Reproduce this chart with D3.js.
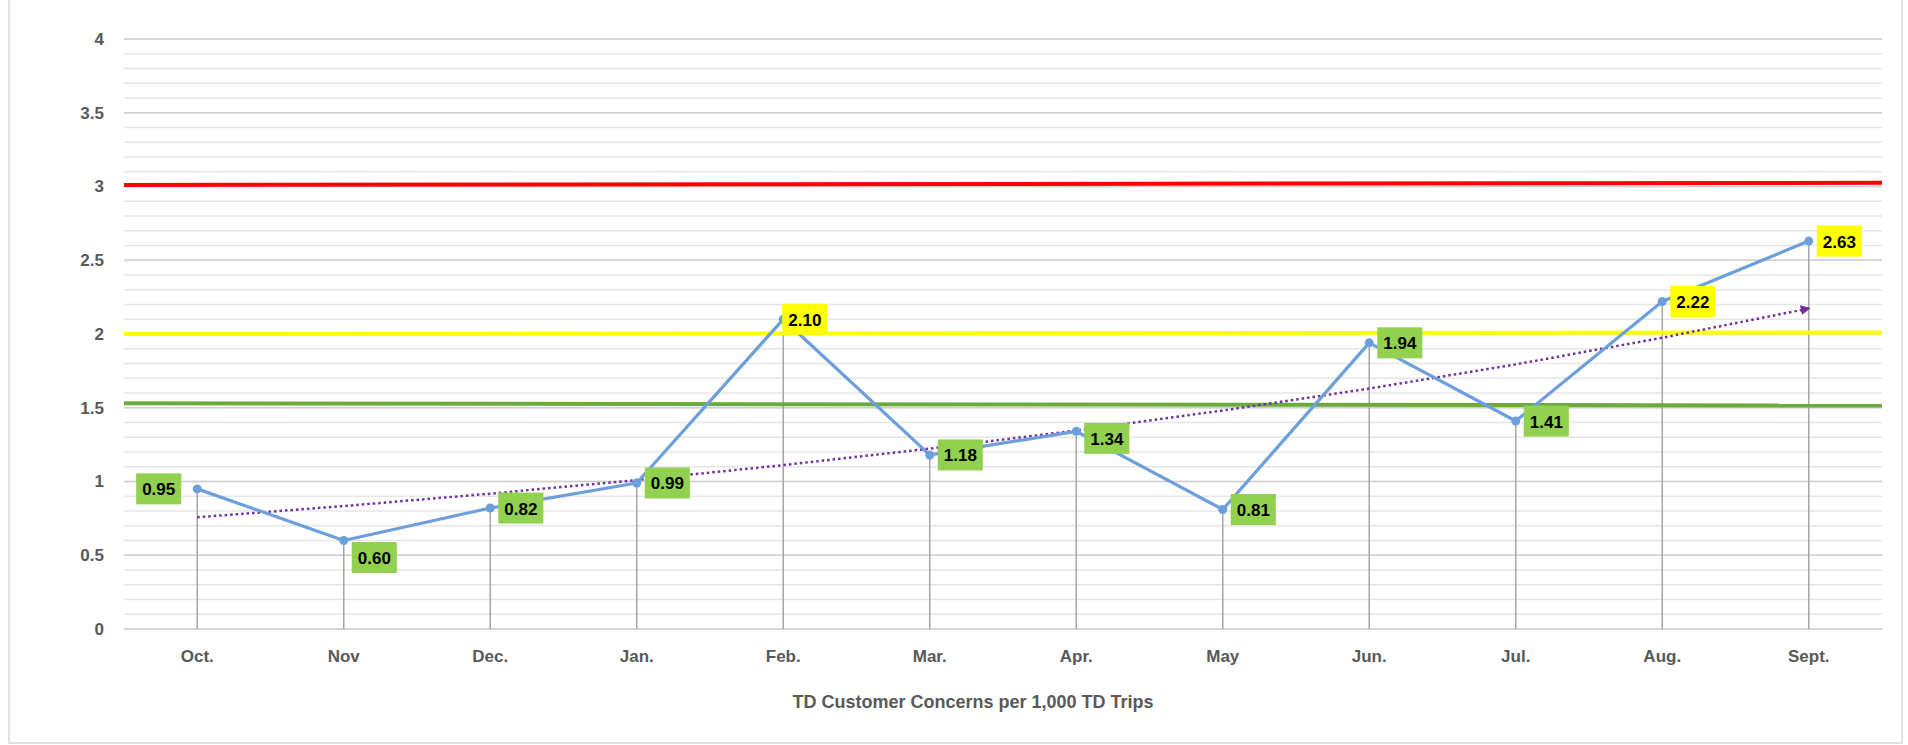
<!DOCTYPE html>
<html>
<head>
<meta charset="utf-8">
<script src="https://cdn.jsdelivr.net/npm/d3@7/dist/d3.min.js"></script>
<style>
  html, body { margin: 0; padding: 0; background: #fff; }
  svg { display: block; }
</style>
</head>
<body>
<svg id="chart" width="1908" height="745"></svg>
<script>
// ---- data ----
const months = ["Oct.", "Nov", "Dec.", "Jan.", "Feb.", "Mar.", "Apr.", "May", "Jun.", "Jul.", "Aug.", "Sept."];
const concerns = [0.95, 0.60, 0.82, 0.99, 2.10, 1.18, 1.34, 0.81, 1.94, 1.41, 2.22, 2.63];
const yTicks = [0, 0.5, 1, 1.5, 2, 2.5, 3, 3.5, 4];
const redLimit = [3.01, 3.025];     // value at left edge, right edge
const yellowLimit = [2.00, 2.01];
const greenLimit = [1.53, 1.515];
const xTitle = "TD Customer Concerns per 1,000 TD Trips";

// ---- layout ----
const svg = d3.select("#chart");
const plot = { left: 124, right: 1882, top: 39, bottom: 629 };
const FONT = "Liberation Sans, Arial, sans-serif";

svg.append("rect").attr("x", 9).attr("y", -2).attr("width", 1893).attr("height", 745)
  .attr("fill", "#fff").attr("stroke", "#d9d9d9").attr("stroke-width", 1.5);

const x = d3.scaleBand().domain(months).range([plot.left, plot.right]);
const cx = m => x(m) + x.bandwidth() / 2;
const y = d3.scaleLinear().domain([0, 4]).range([plot.bottom, plot.top]);

// minor gridlines
const minor = y.ticks(40);
svg.append("g").selectAll("line").data(minor).join("line")
  .attr("x1", plot.left).attr("x2", plot.right)
  .attr("y1", d => y(d)).attr("y2", d => y(d))
  .attr("stroke", "#e6e6e6").attr("stroke-width", 1.5);
// major gridlines
svg.append("g").selectAll("line").data(yTicks).join("line")
  .attr("x1", plot.left).attr("x2", plot.right)
  .attr("y1", d => y(d)).attr("y2", d => y(d))
  .attr("stroke", "#cfcfcf").attr("stroke-width", 1.5);

// y axis labels
const yAxis = svg.append("g").attr("transform", `translate(${plot.left},0)`)
  .call(d3.axisLeft(y).tickValues(yTicks).tickSize(0).tickPadding(20).tickFormat(d3.format("")));
yAxis.select(".domain").remove();
yAxis.selectAll("text").attr("font-family", FONT)
  .attr("font-size", 17).attr("font-weight", "bold").attr("fill", "#595959");

// x axis labels
const xAxis = svg.append("g").attr("transform", `translate(0,${plot.bottom})`)
  .call(d3.axisBottom(x).tickSize(0).tickPadding(21));
xAxis.select(".domain").remove();
xAxis.selectAll("text").attr("font-family", FONT)
  .attr("font-size", 17).attr("font-weight", "bold").attr("fill", "#595959");

// x title
svg.append("text").attr("x", 973).attr("y", 708).attr("text-anchor", "middle")
  .attr("font-family", FONT).attr("font-size", 18)
  .attr("font-weight", "bold").attr("fill", "#595959").text(xTitle);

// drop lines
svg.append("g").selectAll("line").data(concerns).join("line")
  .attr("x1", (d, i) => cx(months[i])).attr("x2", (d, i) => cx(months[i]))
  .attr("y1", d => y(d)).attr("y2", y(0))
  .attr("stroke", "#a6a6a6").attr("stroke-width", 1.5);

// limit lines
const limits = [
  { v: redLimit, c: "#ff0000" },
  { v: yellowLimit, c: "#ffff00" },
  { v: greenLimit, c: "#6aab3c" }
];
svg.append("g").selectAll("line").data(limits).join("line")
  .attr("x1", plot.left).attr("x2", plot.right)
  .attr("y1", d => y(d.v[0])).attr("y2", d => y(d.v[1]))
  .attr("stroke", d => d.c).attr("stroke-width", 4);

// exponential trendline (least squares on ln y)
const n = concerns.length;
const xs = d3.range(1, n + 1);
const lys = concerns.map(Math.log);
const mx = d3.mean(xs), my = d3.mean(lys);
const b = d3.sum(xs, (xi, i) => (xi - mx) * (lys[i] - my)) / d3.sum(xs, xi => (xi - mx) ** 2);
const a = my - b * mx;
const trend = xs.map(xi => Math.exp(a + b * xi));
const defs = svg.append("defs");
defs.append("marker").attr("id", "arrow").attr("viewBox", "0 0 10 10")
  .attr("refX", 8).attr("refY", 5).attr("markerWidth", 4).attr("markerHeight", 4)
  .attr("orient", "auto").attr("markerUnits", "strokeWidth")
  .append("path").attr("d", "M0,0 L10,5 L0,10 z").attr("fill", "#7030a0");
const tline = d3.line().x((d, i) => cx(months[i])).y(d => y(d));
svg.append("path").datum(trend).attr("d", tline)
  .attr("fill", "none").attr("stroke", "#7030a0").attr("stroke-width", 2.5)
  .attr("stroke-dasharray", "2.5 3").attr("marker-end", "url(#arrow)");

// data line
const line = d3.line().x((d, i) => cx(months[i])).y(d => y(d));
svg.append("path").datum(concerns).attr("d", line)
  .attr("fill", "none").attr("stroke", "#6d9fdc").attr("stroke-width", 3.2)
  .attr("stroke-linejoin", "round");
svg.append("g").selectAll("circle").data(concerns).join("circle")
  .attr("cx", (d, i) => cx(months[i])).attr("cy", d => y(d)).attr("r", 4.5)
  .attr("fill", "#6d9fdc");

// data labels
const place = { 0: { side: "left", dy: 0 }, 1: { dy: 17 }, 4: { dx: -1 }, 6: { dy: 7 } };
const lg = svg.append("g");
concerns.forEach((v, i) => {
  const px = cx(months[i]), py = y(v);
  const p = place[i] || {};
  const g = lg.append("g");
  const rect = g.append("rect").attr("fill", v > 2 ? "#ffff00" : "#92d050");
  const t = g.append("text").attr("font-family", FONT)
    .attr("font-size", 17).attr("font-weight", "bold").attr("fill", "#000")
    .attr("text-anchor", "middle").attr("dominant-baseline", "central")
    .text(d3.format(".2f")(v));
  const tw = t.node().getComputedTextLength();
  const bw = tw + 12, bh = 31;
  const left = p.side === "left" ? px - 16 - bw : px + (p.dx !== undefined ? p.dx : 8);
  const cyv = py + (p.dy || 0);
  rect.attr("x", left).attr("y", cyv - bh / 2).attr("width", bw).attr("height", bh);
  t.attr("x", left + bw / 2).attr("y", cyv + 1);
});
</script>
</body>
</html>
